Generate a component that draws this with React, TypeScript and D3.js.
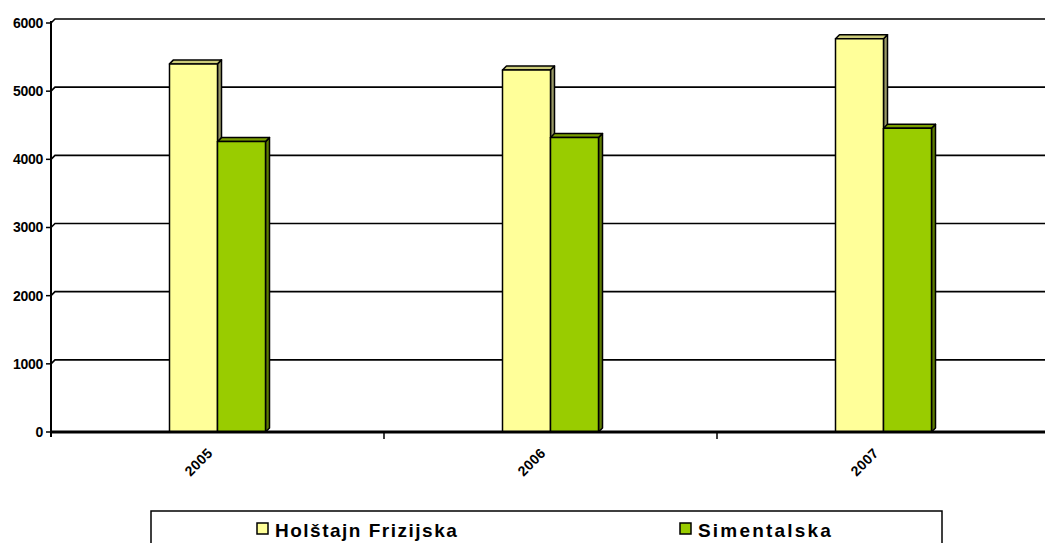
import React, { useEffect, useRef } from 'react';
import * as d3 from 'd3';

const years = ['2005', '2006', '2007'];
const holstajn = [5400, 5310, 5770];
const simentalska = [4260, 4320, 4455];
const seriesNames = ['Holštajn Frizijska', 'Simentalska'];
const yTicks = [0, 1000, 2000, 3000, 4000, 5000, 6000];

export default function App() {
  const ref = useRef<SVGSVGElement>(null);

  useEffect(() => {
    const svg = d3.select(ref.current);
    svg.selectAll('*').remove();

    const width = 1045;
    const height = 543;
    const depth = 4;
    const left = 51;
    const font = 'Liberation Sans, Arial, sans-serif';

    const x = d3.scaleBand<string>().domain(years).range([left, 1050]);
    const y = d3.scaleLinear().domain([0, 6000]).range([432, 23]);
    const barW = 48;

    svg.attr('width', width).attr('height', height);
    svg.append('rect').attr('width', width).attr('height', height).attr('fill', '#fff');

    // gridlines on the back wall
    yTicks.slice(1).forEach((t) => {
      svg
        .append('path')
        .attr('d', `M${left},${y(t)}L${left + depth},${y(t) - depth}L${width},${y(t) - depth}`)
        .attr('fill', 'none')
        .attr('stroke', '#000')
        .attr('stroke-width', 1.6);
    });

    // bars
    const series = [
      { values: holstajn, front: '#FFFF99', side: '#999966', top: '#CCCC7A', off: -barW },
      { values: simentalska, front: '#99CC00', side: '#5C7A00', top: '#7A9E00', off: 0 },
    ];
    years.forEach((yr, i) => {
      const cx = (x(yr) as number) + x.bandwidth() / 2;
      series.forEach((s) => {
        const x0 = cx + s.off;
        const x1 = x0 + barW;
        const y0 = y(s.values[i]);
        const y1 = y(0);
        const g = svg.append('g').attr('stroke', '#000').attr('stroke-width', 1.5).attr('stroke-linejoin', 'round');
        g.append('path')
          .attr('d', `M${x1},${y0}L${x1 + depth},${y0 - depth}L${x1 + depth},${y1 - depth}L${x1},${y1}Z`)
          .attr('fill', s.side);
        g.append('path')
          .attr('d', `M${x0},${y0}L${x0 + depth},${y0 - depth}L${x1 + depth},${y0 - depth}L${x1},${y0}Z`)
          .attr('fill', s.top);
        g.append('rect')
          .attr('x', x0)
          .attr('y', y0)
          .attr('width', barW)
          .attr('height', y1 - y0)
          .attr('fill', s.front);
      });
    });

    // axes
    svg
      .append('line')
      .attr('x1', left)
      .attr('x2', width)
      .attr('y1', y(0))
      .attr('y2', y(0))
      .attr('stroke', '#000')
      .attr('stroke-width', 3);
    svg
      .append('line')
      .attr('x1', left)
      .attr('x2', left)
      .attr('y1', y(6000) - 2)
      .attr('y2', y(0) + 5)
      .attr('stroke', '#000')
      .attr('stroke-width', 2);

    yTicks.forEach((t) => {
      svg
        .append('line')
        .attr('x1', left - 5)
        .attr('x2', left)
        .attr('y1', y(t))
        .attr('y2', y(t))
        .attr('stroke', '#000')
        .attr('stroke-width', 1.5);
      svg
        .append('text')
        .attr('x', left - 8)
        .attr('y', y(t))
        .attr('dy', '0.35em')
        .attr('text-anchor', 'end')
        .attr('font-family', font)
        .attr('font-weight', 'bold')
        .attr('font-size', 14)
        .attr('letter-spacing', -0.3)
        .text(t);
    });

    years.slice(1).forEach((yr) => {
      const xx = x(yr) as number;
      svg
        .append('line')
        .attr('x1', xx)
        .attr('x2', xx)
        .attr('y1', y(0))
        .attr('y2', y(0) + 7)
        .attr('stroke', '#000')
        .attr('stroke-width', 1.5);
    });

    years.forEach((yr) => {
      const cx = (x(yr) as number) + x.bandwidth() / 2;
      svg
        .append('text')
        .attr('transform', `translate(${cx - 4},454) rotate(-45)`)
        .attr('text-anchor', 'end')
        .attr('font-family', font)
        .attr('font-weight', 'bold')
        .attr('font-size', 14)
        .attr('letter-spacing', 0.3)
        .text(yr);
    });

    // legend
    svg
      .append('rect')
      .attr('x', 151)
      .attr('y', 511)
      .attr('width', 791)
      .attr('height', 40)
      .attr('fill', '#fff')
      .attr('stroke', '#000')
      .attr('stroke-width', 1.5);
    const legendX = [257, 680];
    const legendSpacing = [1.5, 2.2];
    seriesNames.forEach((name, i) => {
      svg
        .append('rect')
        .attr('x', legendX[i])
        .attr('y', 523)
        .attr('width', 11)
        .attr('height', 11)
        .attr('fill', series[i].front)
        .attr('stroke', '#000')
        .attr('stroke-width', 1.5);
      svg
        .append('text')
        .attr('x', legendX[i] + 18)
        .attr('y', 537)
        .attr('font-family', font)
        .attr('font-weight', 'bold')
        .attr('font-size', 19)
        .attr('letter-spacing', legendSpacing[i])
        .text(name);
    });
  }, []);

  return <svg ref={ref} style={{ position: 'absolute', left: 0, top: 0 }} />;
}
